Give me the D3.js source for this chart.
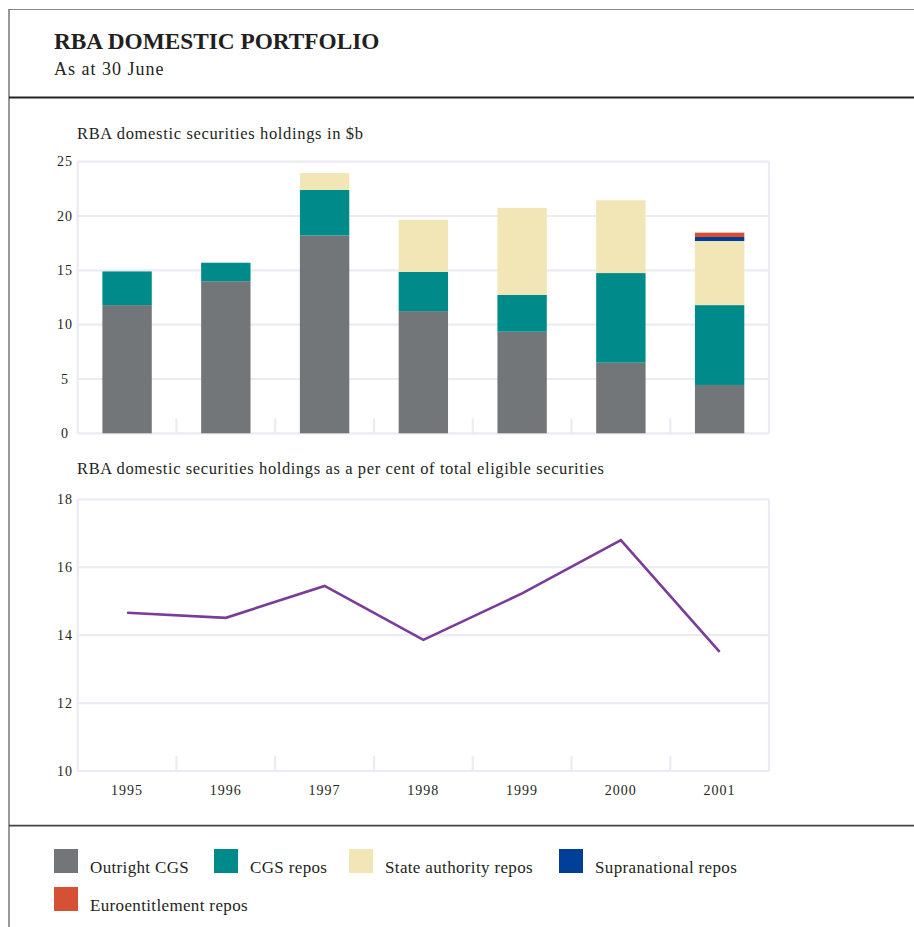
<!DOCTYPE html>
<html>
<head>
<meta charset="utf-8">
<script src="https://cdn.jsdelivr.net/npm/d3@7/dist/d3.min.js"></script>
<style>
  body { margin: 0; background: #fff; }
  text { font-family: "Liberation Serif", "DejaVu Serif", serif; fill: #231f20; }
</style>
</head>
<body>
<div id="chart"></div>
<script>
// data
const years = ["1995", "1996", "1997", "1998", "1999", "2000", "2001"];
const outrightCGS = [11.8, 14.0, 18.2, 11.25, 9.35, 6.5, 4.45];
const cgsRepos = [3.1, 1.7, 4.2, 3.6, 3.4, 8.25, 7.35];
const stateRepos = [0, 0, 1.55, 4.8, 8.0, 6.7, 5.9];
const supraRepos = [0, 0, 0, 0, 0, 0, 0.37];
const euroRepos = [0, 0, 0, 0, 0, 0, 0.4];
const pctEligible = [14.66, 14.51, 15.45, 13.86, 15.23, 16.8, 13.51];

const seriesNames = ["Outright CGS", "CGS repos", "State authority repos", "Supranational repos", "Euroentitlement repos"];
const seriesKeys = ["outright", "cgs", "state", "supra", "euro"];
const colours = ["#737678", "#008b8b", "#f2e5b6", "#003f98", "#d55034"];
const barTicks = [0, 5, 10, 15, 20, 25];
const pctTicks = [10, 12, 14, 16, 18];

// sizes
const wide = 914;
const high = 927;
const left = 77.7;
const right = 769;
const gridCol = "#ebebf3";

const svg = d3.select("#chart").append("svg")
  .attr("width", wide)
  .attr("height", high);

// frame and rules
svg.append("line").attr("x1", 9).attr("x2", wide).attr("y1", 9.5).attr("y2", 9.5)
  .attr("stroke", "#888").attr("stroke-width", 1.2);
svg.append("line").attr("x1", 9).attr("x2", 9).attr("y1", 9).attr("y2", high)
  .attr("stroke", "#555").attr("stroke-width", 1.2);
svg.append("line").attr("x1", 9).attr("x2", wide).attr("y1", 97.5).attr("y2", 97.5)
  .attr("stroke", "#222").attr("stroke-width", 1.8);
svg.append("line").attr("x1", 9).attr("x2", wide).attr("y1", 825.7).attr("y2", 825.7)
  .attr("stroke", "#444").attr("stroke-width", 1.8);

// headings
svg.append("text").attr("x", 54).attr("y", 48.5)
  .style("font-size", "23.3px").style("font-weight", "bold")
  .text("RBA DOMESTIC PORTFOLIO");
svg.append("text").attr("x", 54).attr("y", 75)
  .style("font-size", "18px").style("letter-spacing", "1px")
  .text("As at 30 June");

const x = d3.scaleBand().domain(years).range([left, right])
  .paddingInner(0.5).paddingOuter(0.25);

// draws the grid box for one panel
function panel(yScale, ticks, top, bottom) {
  const g = svg.append("g");
  g.selectAll("line.grid").data(ticks).enter().append("line")
    .attr("class", "grid")
    .attr("x1", left).attr("x2", right)
    .attr("y1", (d) => yScale(d)).attr("y2", (d) => yScale(d))
    .attr("stroke", gridCol).attr("stroke-width", 2.2);
  g.selectAll("line.side").data([left, right]).enter().append("line")
    .attr("class", "side")
    .attr("x1", (d) => d).attr("x2", (d) => d)
    .attr("y1", top).attr("y2", bottom)
    .attr("stroke", gridCol).attr("stroke-width", 2.2);
  // short ticks between categories
  g.selectAll("line.tick").data(years.slice(1)).enter().append("line")
    .attr("class", "tick")
    .attr("x1", (d) => x(d) - x.step() * x.paddingInner() / 2)
    .attr("x2", (d) => x(d) - x.step() * x.paddingInner() / 2)
    .attr("y1", bottom).attr("y2", bottom - 15)
    .attr("stroke", gridCol).attr("stroke-width", 2.2);
  g.selectAll("text.ylab").data(ticks).enter().append("text")
    .attr("class", "ylab")
    .attr("x", 65).attr("y", (d) => yScale(d))
    .attr("dy", "0.34em")
    .attr("text-anchor", "middle")
    .style("font-size", "14px").style("letter-spacing", "1px")
    .text((d) => d);
  return g;
}

// top panel: stacked bars
const yBar = d3.scaleLinear().domain([0, 25]).range([433.3, 161.7]);

svg.append("text").attr("x", 77).attr("y", 139)
  .style("font-size", "16.5px")
  .attr("textLength", 286).attr("lengthAdjust", "spacing")
  .text("RBA domestic securities holdings in $b");

panel(yBar, barTicks, 161.7, 433.3);

const rows = years.map((yr, i) => ({
  year: yr,
  outright: outrightCGS[i],
  cgs: cgsRepos[i],
  state: stateRepos[i],
  supra: supraRepos[i],
  euro: euroRepos[i]
}));

const stacked = d3.stack().keys(seriesKeys)(rows);

svg.append("g").selectAll("g")
  .data(stacked).enter().append("g")
  .attr("fill", (d, i) => colours[i])
  .selectAll("rect")
  .data((d) => d).enter().append("rect")
  .attr("x", (d) => x(d.data.year))
  .attr("width", x.bandwidth())
  .attr("y", (d) => yBar(d[1]))
  .attr("height", (d) => yBar(d[0]) - yBar(d[1]));

// bottom panel: per cent line
const yPct = d3.scaleLinear().domain([10, 18]).range([771, 499.3]);

svg.append("text").attr("x", 77).attr("y", 474)
  .style("font-size", "16.5px")
  .attr("textLength", 527).attr("lengthAdjust", "spacing")
  .text("RBA domestic securities holdings as a per cent of total eligible securities");

panel(yPct, pctTicks, 499.3, 771);

const line = d3.line()
  .x((d, i) => x(years[i]) + x.bandwidth() / 2)
  .y((d) => yPct(d));

svg.append("path")
  .datum(pctEligible)
  .attr("d", line)
  .attr("fill", "none")
  .attr("stroke", "#7a3b99")
  .attr("stroke-width", 2.6);

// year labels
svg.append("g").selectAll("text")
  .data(years).enter().append("text")
  .attr("x", (d) => x(d) + x.bandwidth() / 2)
  .attr("y", 795)
  .attr("text-anchor", "middle")
  .style("font-size", "14px").style("letter-spacing", "1px")
  .text((d) => d);

// legend
const legendPos = [
  { x: 54, y: 849 },
  { x: 214, y: 849 },
  { x: 349, y: 849 },
  { x: 559, y: 849 },
  { x: 54, y: 887 }
];

const legend = svg.append("g").selectAll("g")
  .data(seriesNames).enter().append("g")
  .attr("transform", (d, i) => "translate(" + legendPos[i].x + "," + legendPos[i].y + ")");

legend.append("rect")
  .attr("width", 24).attr("height", 24)
  .attr("fill", (d, i) => colours[i]);

legend.append("text")
  .attr("x", 36).attr("y", 23.5)
  .style("font-size", "17px").style("letter-spacing", "0.35px")
  .text((d) => d);
</script>
</body>
</html>
